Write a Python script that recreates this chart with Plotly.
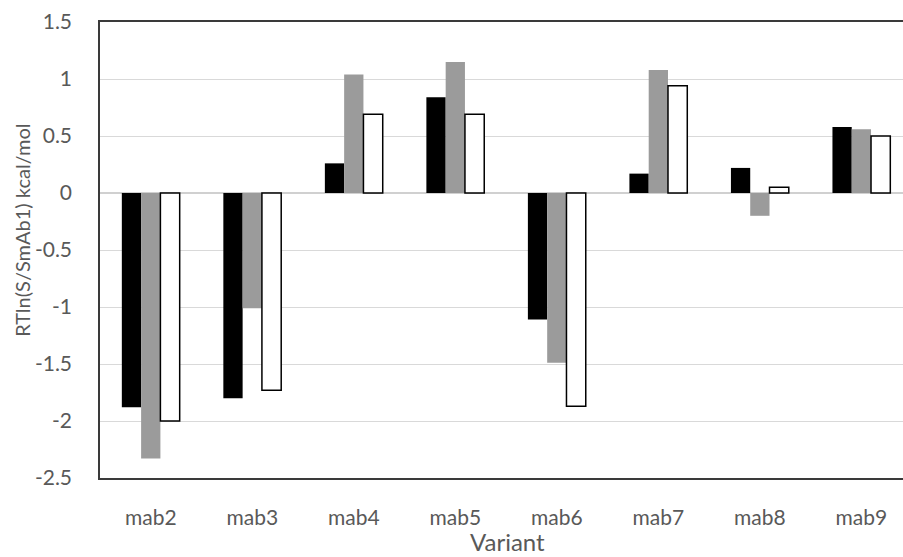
import plotly.graph_objects as go

categories = ["mab2", "mab3", "mab4", "mab5", "mab6", "mab7", "mab8", "mab9"]
series_black = [-1.88, -1.80, 0.26, 0.84, -1.11, 0.17, 0.22, 0.58]
series_gray = [-2.33, -1.01, 1.04, 1.15, -1.49, 1.08, -0.20, 0.56]
series_white = [-2.00, -1.73, 0.69, 0.69, -1.87, 0.94, 0.05, 0.50]
y_ticks = [1.5, 1, 0.5, 0, -0.5, -1, -1.5, -2, -2.5]

font_family = "Lato, Carlito, Calibri, sans-serif"
tick_color = "#595959"

fig = go.Figure()
fig.add_trace(go.Bar(x=categories, y=series_black, marker=dict(color="#000000", line=dict(width=0))))
fig.add_trace(go.Bar(x=categories, y=series_gray, marker=dict(color="#9b9b9b", line=dict(width=0))))
fig.add_trace(go.Bar(x=categories, y=series_white, marker=dict(color="#ffffff", line=dict(color="#000000", width=1.5))))

fig.update_layout(
    width=903, height=557,
    margin=dict(l=100, r=0, t=22, b=79),
    paper_bgcolor="white", plot_bgcolor="white",
    showlegend=False,
    barmode="group", bargap=0.43, bargroupgap=0,
    font=dict(family=font_family, color=tick_color, size=20),
    xaxis=dict(
        range=[-0.5, 7.41],
        showline=True, linecolor="#3a3a3a", linewidth=1.5, mirror=True,
        showgrid=False, ticks="", ticklabelstandoff=20,
        tickfont=dict(size=21, color=tick_color),
    ),
    yaxis=dict(
        range=[-2.5, 1.5],
        tickvals=y_ticks, ticktext=[str(v) for v in y_ticks],
        showline=True, linecolor="#3a3a3a", linewidth=1.5,
        showgrid=True, gridcolor="#d9d9d9", gridwidth=1.2,
        zeroline=True, zerolinecolor="#d0d0d0", zerolinewidth=1.5,
        ticks="", ticklabelstandoff=22,
        tickfont=dict(size=21, color=tick_color),
    ),
    annotations=[
        dict(text="Variant", xref="paper", yref="paper", x=0.507, y=0,
             xanchor="center", yanchor="middle", yshift=-63, showarrow=False,
             font=dict(size=24, color=tick_color)),
        dict(text="RTln(S/SmAb1) kcal/mol", xref="paper", yref="paper", x=0, y=0.542,
             xanchor="center", yanchor="middle", xshift=-78, textangle=-90, showarrow=False,
             font=dict(size=20, color=tick_color)),
    ],
)

fig.write_html("out.html")
